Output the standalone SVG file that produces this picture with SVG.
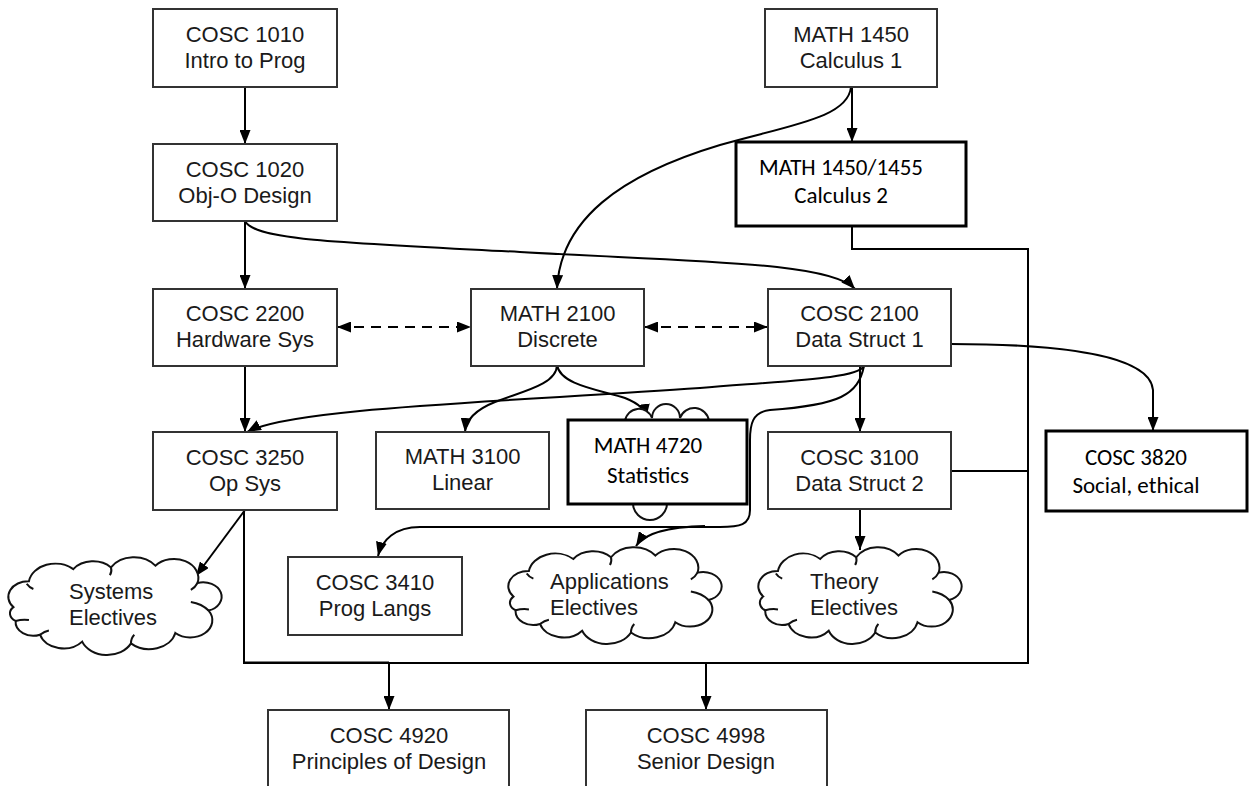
<svg xmlns="http://www.w3.org/2000/svg" width="1254" height="786" viewBox="0 0 1254 786">
  <defs>
    <style>
      .box { fill: #fff; stroke: #333; stroke-width: 2; }
      .tbox { fill: #fff; stroke: #000; stroke-width: 3; }
      .t { font-family: 'Liberation Sans', Arial, sans-serif; font-size: 22px; fill: #1a1a1a; text-anchor: middle; }
      .tl { font-family: 'Liberation Sans', Arial, sans-serif; font-size: 22px; fill: #1a1a1a; text-anchor: start; }
      .c { font-family: Calibri, Carlito, Lato, sans-serif; font-size: 23px; fill: #000; text-anchor: middle; }
      .cloud { fill: #fff; stroke: #111; stroke-width: 2; }
      .tick { fill: none; stroke: #111; stroke-width: 2; }
      .ln { fill: none; stroke: #000; stroke-width: 2; }
      .arr { fill: none; stroke: #000; stroke-width: 2; marker-end: url(#ah); }
      .dash { fill: none; stroke: #000; stroke-width: 2; stroke-dasharray: 10 7; marker-start: url(#ah); marker-end: url(#ah); }
    </style>
    <marker id="ah" viewBox="0 0 14 11" refX="14" refY="5.5" markerWidth="14" markerHeight="11" markerUnits="userSpaceOnUse" orient="auto-start-reverse">
      <path d="M0,0 L14,5.5 L0,11 Z" fill="#000"/>
    </marker>
    <g id="cloudShape">
      <path class="cloud" vector-effect="non-scaling-stroke" d="M12,54 A18,18 0 0 1 26,24 A24,24 0 0 1 66,10 A22,22 0 0 1 100,8 A24,24 0 0 1 140,6 A22,22 0 0 1 178,26 A16,16 0 0 1 188,58 A20,20 0 0 1 158,84 A24,24 0 0 1 118,96 A24,24 0 0 1 74,94 A22,22 0 0 1 36,86 A16,16 0 0 1 14,70 A10,10 0 0 1 12,54 Z"/>
      <path class="tick" vector-effect="non-scaling-stroke" d="M24,27 Q26,31 30,33 M100,8 Q101,13 99,17 M178,26 Q176,31 172,34 M188,58 Q182,50 172,48 M118,96 Q118,90 121,86 M36,86 Q40,82 44,81 M14,70 Q20,68 26,69"/>
    </g>
  </defs>

  <rect width="1254" height="786" fill="#fff"/>

  <g id="connectors">
    <path class="arr" d="M245,87 L245,144"/>
    <path class="arr" d="M245,221 L245,289"/>
    <path class="arr" d="M245,221 C255,240 330,242 520,252 C700,262 830,262 855,289"/>
    <path class="arr" d="M852,87 L852,142"/>
    <path class="arr" d="M851,87 C848,118 790,125 720,145 C620,175 560,220 557,289"/>
    <path class="dash" d="M337,327 L471,327"/>
    <path class="dash" d="M644,327 L768,327"/>
    <path class="arr" d="M245,366 L245,432"/>
    <path class="arr" d="M864,366 C858,378 800,380 700,388 C500,402 290,408 247,432"/>
    <path class="arr" d="M557,365 C557,385 520,392 495,402 C475,410 466,420 465,432"/>
    <path class="arr" d="M557,365 C560,385 600,390 625,398 C640,404 645,410 646,418"/>
    <path class="arr" d="M860,366 L860,432"/>
    <path class="arr" d="M864,366 C858,395 840,405 770,410 C752,412 750,425 750,440 L750,510 C750,525 740,527 720,527 L420,527 C395,527 382,540 378,556"/>
    <path class="arr" d="M705,526 C670,527 645,532 636,546"/>
    <path class="arr" d="M951,344 C1060,344 1150,355 1153,390 L1153,431"/>
    <path class="arr" d="M245,510 L196,576"/>
    <path class="arr" d="M860,509 L860,550"/>
    <path class="ln" d="M852,226 L852,249 L1028,249 L1028,663 L244,663 L244,510"/>
    <path class="ln" stroke-width="3" d="M244,662.5 L389,662.5"/>
    <path class="ln" d="M951,471 L1028,471"/>
    <path class="arr" d="M389,663 L389,710"/>
    <path class="arr" d="M706,663 L706,710"/>
  </g>

  <g id="cosc1010">
    <rect class="box" x="153" y="9" width="184" height="78"/>
    <text class="t" x="245" y="42">COSC 1010</text>
    <text class="t" x="245" y="68">Intro to Prog</text>
  </g>
  <g id="cosc1020">
    <rect class="box" x="153" y="144" width="184" height="77"/>
    <text class="t" x="245" y="177">COSC 1020</text>
    <text class="t" x="245" y="203">Obj-O Design</text>
  </g>
  <g id="math1450">
    <rect class="box" x="765" y="9" width="172" height="78"/>
    <text class="t" x="851" y="42">MATH 1450</text>
    <text class="t" x="851" y="68">Calculus 1</text>
  </g>
  <g id="math1455">
    <rect class="tbox" x="736" y="142" width="230" height="84"/>
    <text class="c" x="841" y="175">MATH 1450/1455</text>
    <text class="c" x="841" y="203">Calculus 2</text>
  </g>
  <g id="cosc2200">
    <rect class="box" x="153" y="289" width="184" height="77"/>
    <text class="t" x="245" y="321">COSC 2200</text>
    <text class="t" x="245" y="347">Hardware Sys</text>
  </g>
  <g id="math2100">
    <rect class="box" x="471" y="289" width="173" height="77"/>
    <text class="t" x="557.5" y="321">MATH 2100</text>
    <text class="t" x="557.5" y="347">Discrete</text>
  </g>
  <g id="cosc2100">
    <rect class="box" x="768" y="289" width="183" height="77"/>
    <text class="t" x="859.5" y="321">COSC 2100</text>
    <text class="t" x="859.5" y="347">Data Struct 1</text>
  </g>
  <g id="cosc3250">
    <rect class="box" x="153" y="432" width="184" height="78"/>
    <text class="t" x="245" y="465">COSC 3250</text>
    <text class="t" x="245" y="491">Op Sys</text>
  </g>
  <g id="math3100">
    <rect class="box" x="376" y="432" width="173" height="77"/>
    <text class="t" x="462.5" y="464">MATH 3100</text>
    <text class="t" x="462.5" y="490">Linear</text>
  </g>
  <g id="math4720">
    <path class="cloud" d="M625,421 A14,14 0 0 1 652,418 A14,14 0 0 1 680,418 A15,15 0 0 1 709,421 L709,503 L667,503 A17,17 0 0 1 633,503 L625,503 Z"/>
    <rect class="tbox" x="568" y="420" width="179" height="84"/>
    <text class="c" x="648" y="453">MATH 4720</text>
    <text class="c" x="648" y="483">Statistics</text>
  </g>
  <g id="cosc3100">
    <rect class="box" x="768" y="432" width="183" height="77"/>
    <text class="t" x="859.5" y="465">COSC 3100</text>
    <text class="t" x="859.5" y="491">Data Struct 2</text>
  </g>
  <g id="cosc3820">
    <rect class="tbox" x="1046" y="431" width="201" height="80"/>
    <text class="c" x="1136" y="465">COSC 3820</text>
    <text class="c" x="1136" y="493">Social, ethical</text>
  </g>
  <g id="cosc3410">
    <rect class="box" x="288" y="557" width="174" height="78"/>
    <text class="t" x="375" y="590">COSC 3410</text>
    <text class="t" x="375" y="616">Prog Langs</text>
  </g>
  <g id="systems">
    <use href="#cloudShape" transform="translate(0.1,560.5) scale(1.109,0.863)"/>
    <text class="tl" x="69" y="599">Systems</text>
    <text class="tl" x="69" y="625">Electives</text>
  </g>
  <g id="applications">
    <use href="#cloudShape" transform="translate(500.1,550.4) scale(1.109,0.855)"/>
    <text class="tl" x="550" y="589">Applications</text>
    <text class="tl" x="550" y="615">Electives</text>
  </g>
  <g id="theory">
    <use href="#cloudShape" transform="translate(750.5,550.4) scale(1.057,0.855)"/>
    <text class="tl" x="810" y="589">Theory</text>
    <text class="tl" x="810" y="615">Electives</text>
  </g>
  <g id="cosc4920">
    <rect class="box" x="268" y="710" width="241" height="100"/>
    <text class="t" x="389" y="743">COSC 4920</text>
    <text class="t" x="389" y="769">Principles of Design</text>
  </g>
  <g id="cosc4998">
    <rect class="box" x="586" y="710" width="241" height="100"/>
    <text class="t" x="706" y="743">COSC 4998</text>
    <text class="t" x="706" y="769">Senior Design</text>
  </g>
</svg>
